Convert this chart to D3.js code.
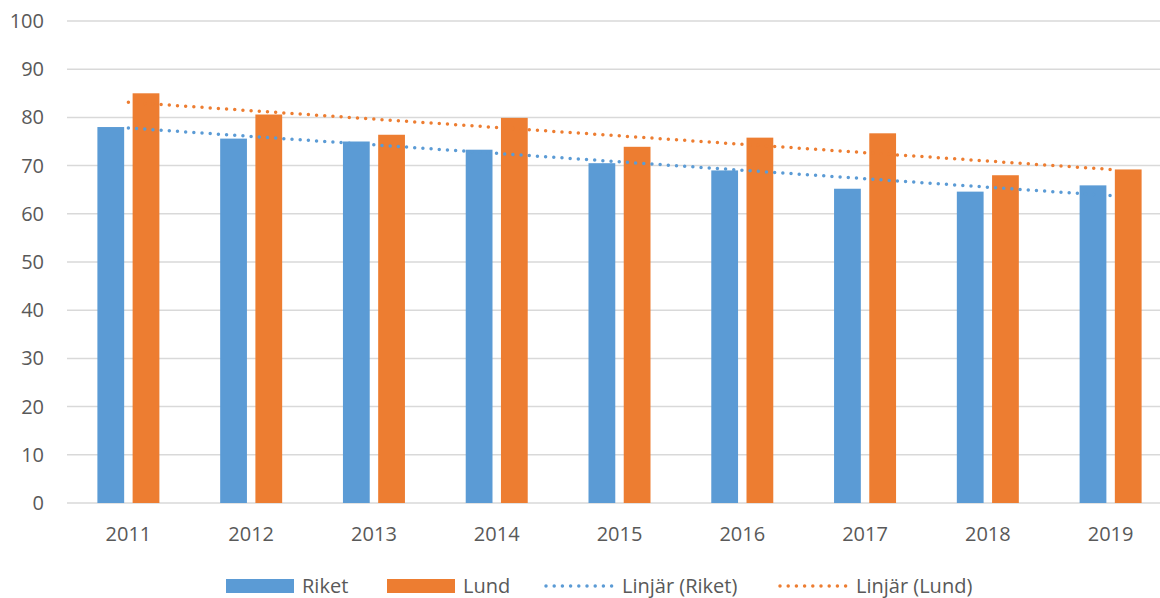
<!DOCTYPE html>
<html>
<head>
<meta charset="utf-8">
<script src="https://cdn.jsdelivr.net/npm/d3@7"></script>
<style>
  body { margin: 0; background: #fff; }
  text { font-family: "Open Sans", sans-serif; fill: #595959; }
</style>
</head>
<body>
<div id="chart"></div>
<script>
// Data
var years = ["2011", "2012", "2013", "2014", "2015", "2016", "2017", "2018", "2019"];
var riket = [78.0, 75.6, 75.0, 73.3, 70.5, 69.0, 65.2, 64.6, 65.9];
var lund = [85.0, 80.6, 76.4, 79.9, 73.9, 75.8, 76.7, 68.0, 69.2];
var yTicks = [0, 10, 20, 30, 40, 50, 60, 70, 80, 90, 100];
var seriesNames = ["Riket", "Lund"];
var trendNames = ["Linjär (Riket)", "Linjär (Lund)"];

var colors = { Riket: "#5B9BD5", Lund: "#ED7D31" };
var width = 1160, height = 598;

var svg = d3.select("#chart").append("svg")
    .attr("width", width)
    .attr("height", height);

var x = d3.scaleBand().domain(years).range([67, 1172]).paddingInner(0).paddingOuter(0);
var xs = d3.scaleBand().domain(seriesNames).range([x.bandwidth() / 2 - 31, x.bandwidth() / 2 + 31]).paddingInner(0.24);
var y = d3.scaleLinear().domain([0, 100]).range([503, 21]);

// Gridlines
svg.append("g").selectAll("line")
    .data(yTicks)
    .enter().append("line")
    .attr("x1", 67).attr("x2", width)
    .attr("y1", function(d) { return y(d); })
    .attr("y2", function(d) { return y(d); })
    .style("stroke", "#D9D9D9")
    .style("stroke-width", 1.5);

// Y axis labels
var yAxis = d3.axisLeft(y).tickValues(yTicks).tickSize(0).tickPadding(0);
var gy = svg.append("g").attr("transform", "translate(44,0)").call(yAxis);
gy.select(".domain").remove();
gy.selectAll("text")
    .style("font-size", "20px")
    .style("font-family", "'Open Sans', sans-serif")
    .attr("fill", "#595959");

// X axis labels
var xAxis = d3.axisBottom(x).tickSize(0).tickPadding(0);
var gx = svg.append("g").attr("transform", "translate(0,527)").call(xAxis);
gx.select(".domain").remove();
gx.selectAll("text")
    .style("font-size", "20px")
    .style("font-family", "'Open Sans', sans-serif")
    .attr("fill", "#595959");

// Bars
var seriesData = { Riket: riket, Lund: lund };
seriesNames.forEach(function(name) {
    svg.append("g").selectAll("rect")
        .data(seriesData[name])
        .enter().append("rect")
        .attr("x", function(d, i) { return x(years[i]) + xs(name); })
        .attr("width", xs.bandwidth())
        .attr("y", function(d) { return y(d); })
        .attr("height", function(d) { return y(0) - y(d); })
        .style("fill", colors[name]);
});

// Linear trend lines (least squares, like Excel)
function trend(vals) {
    var n = vals.length, mx = (n - 1) / 2, my = d3.mean(vals);
    var sxy = 0, sxx = 0;
    vals.forEach(function(v, i) { sxy += (i - mx) * (v - my); sxx += (i - mx) * (i - mx); });
    var b = sxy / sxx, a = my - b * mx;
    return vals.map(function(v, i) { return a + b * i; });
}

var line = d3.line()
    .x(function(d, i) { return x(years[i]) + x.bandwidth() / 2; })
    .y(function(d) { return y(d); });

seriesNames.forEach(function(name) {
    svg.append("path")
        .datum(trend(seriesData[name]))
        .attr("d", line)
        .style("fill", "none")
        .style("stroke", colors[name])
        .style("stroke-width", 3.5)
        .style("stroke-linecap", "round")
        .style("stroke-dasharray", "0 8.2");
});

// Legend
var legendItems = [
    { label: "Riket", color: colors.Riket, type: "rect", x: 226 },
    { label: "Lund", color: colors.Lund, type: "rect", x: 387 },
    { label: trendNames[0], color: colors.Riket, type: "dot", x: 545 },
    { label: trendNames[1], color: colors.Lund, type: "dot", x: 779 }
];

var legend = svg.selectAll(".legend")
    .data(legendItems)
    .enter().append("g")
    .attr("class", "legend")
    .attr("transform", function(d) { return "translate(" + d.x + ",586)"; });

legend.filter(function(d) { return d.type == "rect"; })
    .append("rect")
    .attr("x", 0).attr("y", -7)
    .attr("width", 68).attr("height", 14)
    .style("fill", function(d) { return d.color; });

legend.filter(function(d) { return d.type == "dot"; })
    .append("line")
    .attr("x1", 1).attr("x2", 68)
    .attr("y1", 0).attr("y2", 0)
    .style("stroke", function(d) { return d.color; })
    .style("stroke-width", 3.5)
    .style("stroke-linecap", "round")
    .style("stroke-dasharray", "0 8.2");

legend.append("text")
    .attr("x", function(d) { return d.type == "rect" ? 76 : 77; })
    .attr("y", 0)
    .attr("dy", "0.35em")
    .style("font-size", "20px")
    .text(function(d) { return d.label; });
</script>
</body>
</html>
